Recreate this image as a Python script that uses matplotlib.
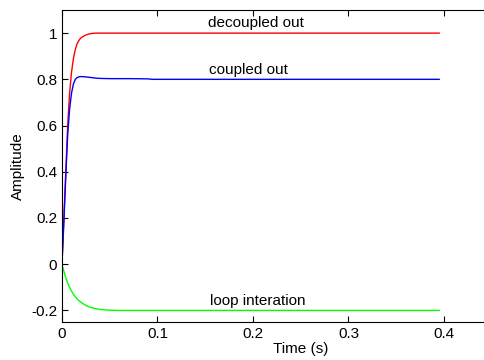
import matplotlib
matplotlib.use('Agg')
import matplotlib.pyplot as plt

plt.rcParams['font.family'] = ['Liberation Sans', 'DejaVu Sans']
plt.rcParams['font.size'] = 11

# temps (s) et reponses
t = [0, 0.002, 0.004, 0.006, 0.008, 0.010, 0.012, 0.014, 0.016, 0.018,
     0.020, 0.024, 0.028, 0.032, 0.036, 0.040, 0.050, 0.060, 0.070,
     0.090, 0.095, 0.100, 0.200, 0.300, 0.395]

decoupled = [0, 0.20, 0.40, 0.60, 0.74, 0.83, 0.89, 0.93, 0.955, 0.97,
             0.98, 0.99, 0.996, 0.999, 1.0, 1.0, 1.0, 1.0, 1.0,
             1.0, 1.0, 1.0, 1.0, 1.0, 1.0]

coupled = [0, 0.18, 0.38, 0.56, 0.67, 0.74, 0.78, 0.80, 0.808, 0.811,
           0.812, 0.811, 0.809, 0.807, 0.805, 0.804, 0.803, 0.803, 0.803,
           0.802, 0.80, 0.80, 0.80, 0.80, 0.80]

loop = [0, -0.031, -0.059, -0.082, -0.100, -0.116, -0.130, -0.141, -0.151, -0.158,
        -0.165, -0.176, -0.184, -0.189, -0.193, -0.196, -0.199, -0.2, -0.2,
        -0.2, -0.2, -0.2, -0.2, -0.2, -0.2]

xticks = [0, 0.1, 0.2, 0.3, 0.4, 0.5]
xlabels = ['0', '0.1', '0.2', '0.3', '0.4', '']
yticks = [-0.2, 0, 0.2, 0.4, 0.6, 0.8, 1]
ylabels = ['-0.2', '0', '0.2', '0.4', '0.6', '0.8', '1']

fig = plt.figure(figsize=(4.84, 3.6), dpi=100)
ax = fig.add_axes([0.128, 0.1056, 0.9866, 0.8666])

ax.plot(t, decoupled, color=(1, 0, 0), lw=1.0)
ax.plot(t, coupled, color=(0, 0, 1), lw=1.0)
ax.plot(t, loop, color=(0, 1, 0), lw=1.0)

ax.text(0.203, 1.012, 'decoupled out', ha='center', va='bottom')
ax.text(0.195, 0.812, 'coupled out', ha='center', va='bottom')
ax.text(0.205, -0.19, 'loop interation', ha='center', va='bottom')

ax.set_xlim(0, 0.5)
ax.set_ylim(-0.25, 1.1)
ax.set_xticks(xticks)
ax.set_xticklabels(xlabels)
ax.set_yticks(yticks)
ax.set_yticklabels(ylabels)
ax.tick_params(direction='in', length=4, top=True, right=True, labelsize=11)
ax.set_xlabel('Time (s)', labelpad=1)
ax.set_ylabel('Amplitude')

fig.savefig('out.png', dpi=100)
